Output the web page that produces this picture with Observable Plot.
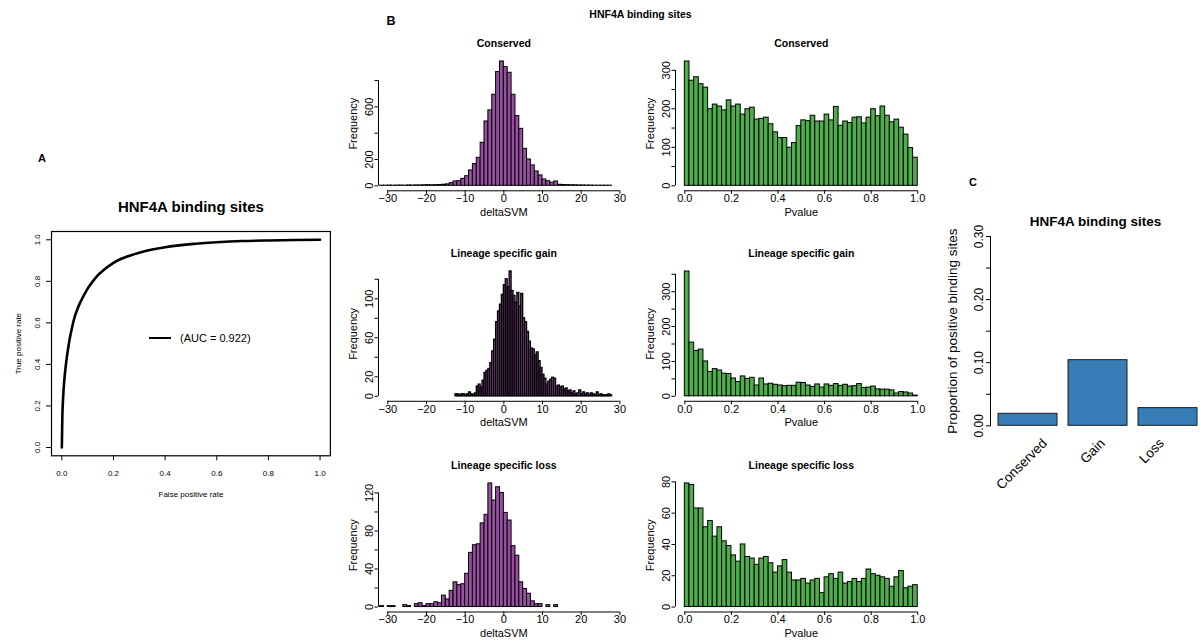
<!DOCTYPE html>
<html><head><meta charset="utf-8">
<script src="https://cdn.jsdelivr.net/npm/d3@7"></script>
<script src="https://cdn.jsdelivr.net/npm/@observablehq/plot@0.6"></script>
<style>
body{margin:0;background:#fff;font-family:"Liberation Sans",Arial,Helvetica,sans-serif;}
#root{position:relative;width:1201px;height:643px;overflow:hidden;background:#fff;}
.lbl{position:absolute;transform:translate(-50%,-50%);white-space:nowrap;line-height:1;color:#000;}
</style></head><body><div id="root"></div>
<script>
// ---------- DATA ----------
const panelTitle = "HNF4A binding sites";

// Panel A: ROC curve
const rocFPR = [0,0.002,0.005,0.01,0.015,0.02,0.03,0.04,0.05,0.06,0.07,0.08,0.1,0.12,0.14,0.16,0.18,0.2,0.25,0.3,0.35,0.4,0.5,0.6,0.7,0.8,0.9,1.0];
const rocTPR = [0,0.15,0.24,0.33,0.39,0.44,0.52,0.58,0.63,0.665,0.695,0.72,0.765,0.8,0.83,0.852,0.872,0.889,0.918,0.938,0.953,0.964,0.979,0.988,0.994,0.997,0.999,1.0];
const rocTicks = [0,0.2,0.4,0.6,0.8,1.0];
const aucLabel = "(AUC = 0.922)";

// Panel B: histograms
const deltaTicks = [-30,-20,-10,0,10,20,30];
const pTicks = [0,0.2,0.4,0.6,0.8,1.0];

const consDeltaStart = -32, consDeltaBin = 1;
const consDeltaCounts = [1,1,2,1,2,2,1,3,2,3, 3,4,5,4,5,6,8,11,20,33, 35,53,73,117,165,213,327,489,573,692, 865,945,902,859,692,530,433,281,200,155, 109,79,48,35,23,33,8,6,5,4, 4,3,3,2,2,1,1,1,1,1];
const consDeltaYTicks = [0,200,400,600,800], consDeltaYLab = [0,200,600];

const consPStart = 0, consPBin = 0.02;
const consPCounts = [323,273,282,264,255,199,211,206,196,222, 206,211,185,199,203,172,174,177,160,139, 124,124,99,111,155,170,168,182,167,167, 185,170,205,156,167,163,177,178,162,177, 199,181,206,182,165,172,151,133,98,73];
const consPYTicks = [0,50,100,150,200,250,300], consPYLab = [0,100,200,300];

const gainDeltaStart = -12.5, gainDeltaBin = 0.5;
const gainDeltaCounts = [2,2,1,2,2,1,2,4,2,1, 3,10,12,9,16,24,26,28,34,46, 58,76,87,94,104,114,120,112,128,108, 103,96,106,92,105,80,76,66,56,49, 48,42,45,36,29,22,18,12,15,17, 19,18,10,11,9,10,7,8,5,6, 3,5,2,3,6,2,4,2,3,1, 3,2,1,4,1,2,1,1,1,2, 1];
const gainDeltaYTicks = [0,20,40,60,80,100,120], gainDeltaYLab = [0,20,60,100];

const gainPStart = 0, gainPBin = 0.02;
const gainPCounts = [358,154,130,134,100,70,78,74,65,64, 51,41,57,50,53,31,51,34,36,33, 31,29,30,30,39,38,31,27,34,25, 34,30,35,30,33,28,29,35,24,25, 28,20,19,19,17,8,12,11,8,2];
const gainPYTicks = [0,50,100,150,200,250,300,350], gainPYLab = [0,100,200,300];

const lossDeltaStart = -32, lossDeltaBin = 1;
const lossDeltaCounts = [1,0,1,1,0,0,2,1,0,3, 4,1,3,3,5,4,12,8,17,26, 23,24,35,57,65,66,88,97,130,112, 126,120,99,91,64,54,26,19,14,6, 3,3,0,2,0,2];
const lossDeltaYTicks = [0,20,40,60,80,100,120], lossDeltaYLab = [0,40,80,120];

const lossPStart = 0, lossPBin = 0.02;
const lossPCounts = [79,78,63,63,51,55,45,51,42,39, 33,29,40,32,31,27,31,32,28,22, 26,30,22,17,17,18,15,17,18,9, 19,21,18,22,15,16,18,16,18,24, 21,20,19,18,13,19,23,12,13,14];
const lossPYTicks = [0,20,40,60,80], lossPYLab = [0,20,40,60,80];

// Panel C
const propCats = ["Conserved","Gain","Loss"];
const propVals = [0.019,0.104,0.028];
const propTicks = [0,0.05,0.1,0.15,0.2,0.25,0.3];
const propLab = [0,0.1,0.2,0.3];

// ---------- STYLE / LAYOUT ----------
const FONT = '"Liberation Sans", Arial, Helvetica, sans-serif';
const PURPLE = "#984EA3", GREEN = "#4DAF4A", BLUE = "#377EB8";
const root = document.getElementById("root");

function place(svg, left, top) {
  svg.style.position = "absolute";
  svg.style.left = left + "px";
  svg.style.top = top + "px";
  root.appendChild(svg);
}
function label(text, x, y, css) {
  const d = document.createElement("div");
  d.className = "lbl";
  d.textContent = text;
  d.style.left = x + "px"; d.style.top = y + "px";
  Object.assign(d.style, css || {});
  root.appendChild(d);
  return d;
}
const mid = {textAnchor: "middle", lineAnchor: "middle"};

function histPanel({L, T, W, H, counts, start, bin, fill, sw = 1, xDomain, xTicks, xFmt, yTicks, yLab, title, xLabel}) {
  const ml = 45, mt = 25, mr = 10, mb = 32;
  const bins = counts.map((n, i) => ({x1: start + i * bin, x2: start + (i + 1) * bin, n}));
  const M = d3.max(counts);
  const yDom = [-0.04 * M, 1.04 * M];
  const svg = Plot.plot({
    width: W + ml + mr, height: H + mt + mb,
    marginLeft: ml, marginTop: mt, marginRight: mr, marginBottom: mb,
    style: {fontFamily: FONT, fontSize: "11px", color: "#000", background: "transparent", overflow: "visible"},
    x: {domain: xDomain, label: null, axis: null},
    y: {domain: yDom, label: null, axis: null},
    marks: [
      Plot.rect(bins, {x1: "x1", x2: "x2", y1: 0, y2: "n", fill, stroke: "#000", strokeWidth: sw}),
      Plot.ruleY([yDom[0]], {x1: xTicks[0], x2: xTicks[xTicks.length - 1], stroke: "#000"}),
      Plot.ruleX([xDomain[0]], {y1: yTicks[0], y2: yTicks[yTicks.length - 1], stroke: "#000"}),
      Plot.axisX(xTicks, {tickSize: 3.5, tickPadding: 0, tickFormat: xFmt, label: null, fontSize: 11}),
      Plot.axisY(yTicks, {tickSize: 3.5, tickPadding: 2, tickRotate: -90, textAnchor: "middle", lineAnchor: "bottom",
        tickFormat: d => yLab.includes(d) ? String(d) : "", label: null, fontSize: 11}),
      Plot.text([title], {frameAnchor: "top", dy: -13, fontWeight: "bold", fontSize: 10.5, ...mid}),
      Plot.text(["Frequency"], {frameAnchor: "left", dx: -25, rotate: -90, fontSize: 11, ...mid}),
      Plot.text([xLabel], {frameAnchor: "bottom", dy: 21.5, fontSize: 11, ...mid})
    ]
  });
  place(svg, L - ml, T - mt);
}

// ---------- PANEL A ----------
{
  const L = 51.4, T = 230.7, W = 278.9, H = 224.3;
  const ml = 45, mt = 35, mr = 5, mb = 50;
  const roc = rocFPR.map((f, i) => ({fpr: f, tpr: rocTPR[i]}));
  const svg = Plot.plot({
    width: W + ml + mr, height: H + mt + mb,
    marginLeft: ml, marginTop: mt, marginRight: mr, marginBottom: mb,
    style: {fontFamily: FONT, fontSize: "8px", color: "#000", background: "transparent", overflow: "visible"},
    x: {domain: [-0.04, 1.04], label: null, axis: null},
    y: {domain: [-0.04, 1.04], label: null, axis: null},
    marks: [
      Plot.frame({stroke: "#000", strokeWidth: 1.2}),
      Plot.line(roc, {x: "fpr", y: "tpr", stroke: "#000", strokeWidth: 2.6, curve: "monotone-x"}),
      Plot.axisX(rocTicks, {tickSize: 5, tickPadding: 9.5, tickFormat: d3.format(".1f"), label: null, fontSize: 8}),
      Plot.axisY(rocTicks, {tickSize: 5, tickPadding: 6.5, tickRotate: -90, textAnchor: "middle", lineAnchor: "bottom",
        tickFormat: d3.format(".1f"), label: null, fontSize: 8}),
      Plot.text(["False positive rate"], {frameAnchor: "bottom", dy: 39, fontSize: 8, ...mid}),
      Plot.text(["True positive rate"], {frameAnchor: "left", dx: -33, rotate: -90, fontSize: 8, ...mid}),
      Plot.text([panelTitle], {frameAnchor: "top", dy: -24, fontWeight: "bold", fontSize: 15, ...mid})
    ]
  });
  place(svg, L - ml, T - mt);
  // legend
  const ln = document.createElement("div");
  Object.assign(ln.style, {position: "absolute", left: "149px", top: "336.5px", width: "22px", height: "0", borderTop: "2.2px solid #000"});
  root.appendChild(ln);
  const t = label(aucLabel, 180, 338, {fontSize: "11px"});
  t.style.transform = "translate(0,-50%)";
  label("A", 42, 158, {fontSize: "11px", fontWeight: "bold"});
}

// ---------- PANEL B ----------
label("B", 391, 21, {fontSize: "12.5px", fontWeight: "bold"});
label(panelTitle, 640.5, 14, {fontSize: "10.5px", fontWeight: "bold"});
{
  const dL = 378.4, dW = 250.7, pL = 675, pW = 251.6;
  const rows = [{T: 56.2, H: 134.3}, {T: 266.2, H: 134.8}, {T: 478, H: 133.5}];
  const dDom = [-32.4, 32.4], pDom = [-0.04, 1.04];
  const pf = d3.format(".1f");
  histPanel({L: dL, T: rows[0].T, W: dW, H: rows[0].H, counts: consDeltaCounts, start: consDeltaStart, bin: consDeltaBin,
    fill: PURPLE, xDomain: dDom, xTicks: deltaTicks, xFmt: undefined, yTicks: consDeltaYTicks, yLab: consDeltaYLab, title: "Conserved", xLabel: "deltaSVM"});
  histPanel({L: pL, T: rows[0].T, W: pW, H: rows[0].H, counts: consPCounts, start: consPStart, bin: consPBin,
    fill: GREEN, xDomain: pDom, xTicks: pTicks, xFmt: pf, yTicks: consPYTicks, yLab: consPYLab, title: "Conserved", xLabel: "Pvalue"});
  histPanel({L: dL, T: rows[1].T, W: dW, H: rows[1].H, counts: gainDeltaCounts, start: gainDeltaStart, bin: gainDeltaBin,
    fill: PURPLE, sw: 1.3, xDomain: dDom, xTicks: deltaTicks, xFmt: undefined, yTicks: gainDeltaYTicks, yLab: gainDeltaYLab, title: "Lineage specific gain", xLabel: "deltaSVM"});
  histPanel({L: pL, T: rows[1].T, W: pW, H: rows[1].H, counts: gainPCounts, start: gainPStart, bin: gainPBin,
    fill: GREEN, xDomain: pDom, xTicks: pTicks, xFmt: pf, yTicks: gainPYTicks, yLab: gainPYLab, title: "Lineage specific gain", xLabel: "Pvalue"});
  histPanel({L: dL, T: rows[2].T, W: dW, H: rows[2].H, counts: lossDeltaCounts, start: lossDeltaStart, bin: lossDeltaBin,
    fill: PURPLE, xDomain: dDom, xTicks: deltaTicks, xFmt: undefined, yTicks: lossDeltaYTicks, yLab: lossDeltaYLab, title: "Lineage specific loss", xLabel: "deltaSVM"});
  histPanel({L: pL, T: rows[2].T, W: pW, H: rows[2].H, counts: lossPCounts, start: lossPStart, bin: lossPBin,
    fill: GREEN, xDomain: pDom, xTicks: pTicks, xFmt: pf, yTicks: lossPYTicks, yLab: lossPYLab, title: "Lineage specific loss", xLabel: "Pvalue"});
}

// ---------- PANEL C ----------
{
  const L = 990, T = 235.7, W = 210, H = 189.3;
  const ml = 60, mt = 30, mr = 1, mb = 70;
  const data = propCats.map((c, i) => ({cat: c, p: propVals[i]}));
  const dxs = [13, 1, -10];
  const svg = Plot.plot({
    width: W + ml + mr, height: H + mt + mb,
    marginLeft: ml, marginTop: mt, marginRight: mr, marginBottom: mb,
    style: {fontFamily: FONT, fontSize: "12px", color: "#000", background: "transparent", overflow: "visible"},
    x: {type: "band", domain: propCats, paddingInner: 0.157, paddingOuter: 0.0785, align: 0.727, label: null, axis: null},
    y: {domain: [0, 0.3], label: null, axis: null},
    marks: [
      Plot.barY(data, {x: "cat", y: "p", fill: BLUE, stroke: "#1a1a1a", strokeWidth: 1, inset: 0}),
      Plot.frame({anchor: "left", stroke: "#000"}),
      Plot.axisY(propTicks, {tickSize: 4, tickPadding: 3.4, tickRotate: -90, textAnchor: "middle", lineAnchor: "bottom",
        tickFormat: d => propLab.includes(d) ? d.toFixed(2) : "", label: null, fontSize: 12}),
      ...propCats.map((c, i) => Plot.text([c], {x: d => d, frameAnchor: "bottom", rotate: -45, textAnchor: "end", lineAnchor: "top",
        dx: dxs[i], dy: 11.5, fontSize: 13.5})),
      Plot.text(["Proportion of positive binding sites"], {frameAnchor: "left", dx: -38, rotate: -90, fontSize: 13.5, ...mid}),
      Plot.text([panelTitle], {frameAnchor: "top", dy: -15, fontWeight: "bold", fontSize: 13.5, ...mid})
    ]
  });
  place(svg, L - ml, T - mt);
  label("C", 973, 182, {fontSize: "11px", fontWeight: "bold"});
}
</script></body></html>
